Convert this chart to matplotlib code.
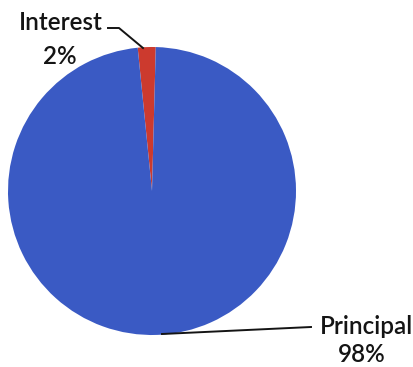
import matplotlib.pyplot as plt

# Loan breakdown: share of principal vs interest
labels = ['Interest', 'Principal']
shares = [2, 98]
colours = ['#cc3a2e', '#3a5ac4']

W, H = 413, 367
fig = plt.figure(figsize=(W / 100, H / 100), dpi=100)
ax = fig.add_axes([0, 0, 1, 1])

# pie sits in pixel coords (y measured from the bottom)
cx, cy, r = 152, H - 191, 144
ax.pie(shares, colors=colours, startangle=88.5, counterclock=True,
       center=(cx, cy), radius=r, frame=True,
       wedgeprops={'linewidth': 0})
ax.set_xlim(0, W)
ax.set_ylim(0, H)
ax.axis('off')

font = dict(family=['Lato', 'DejaVu Sans'], fontsize=17.5, weight='semibold',
            color='#141414')

# Interest label with elbow leader
ax.text(61, H - 23, labels[0], ha='center', va='center', **font)
ax.text(60, H - 57, f'{shares[0]}%', ha='center', va='center', **font)
ax.plot([108, 119, 143], [H - 28, H - 28, H - 48], color='#141414', lw=1.4)

# Principal label with leader to the bottom of the pie
ax.text(366, H - 326, labels[1], ha='center', va='center', **font)
ax.text(362, H - 355, f'{shares[1]}%', ha='center', va='center', **font)
ax.plot([162, 311], [H - 334, H - 327], color='#141414', lw=1.4)

fig.savefig('out.png', dpi=100)
